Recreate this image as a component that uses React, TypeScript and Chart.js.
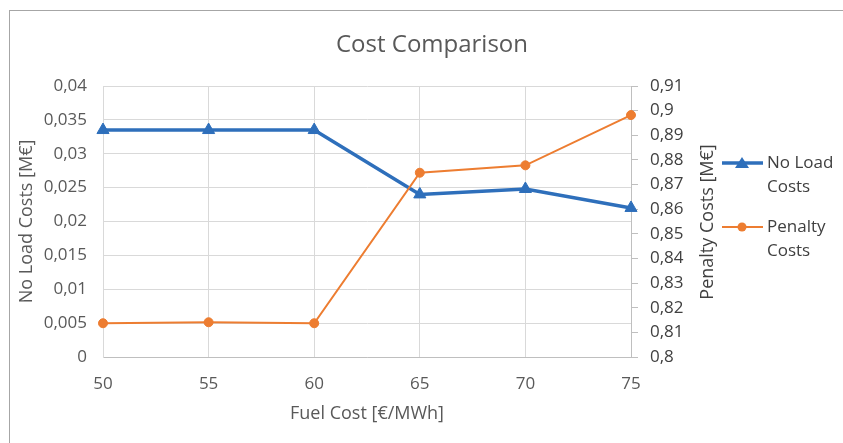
import React, { useEffect, useRef } from "react";
import { Chart, registerables } from "chart.js";

Chart.register(...registerables);

const categories = ["50", "55", "60", "65", "70", "75"];
const noLoadCosts = [0.0335, 0.0335, 0.0335, 0.024, 0.0248, 0.022];
const penaltyCosts = [0.8137, 0.8141, 0.8137, 0.8748, 0.8778, 0.8982];
const seriesNames = ["No Load Costs", "Penalty Costs"];
const legendLines = [["No Load", "Costs"], ["Penalty", "Costs"]];
const titleText = "Cost Comparison";
const xTitle = "Fuel Cost [€/MWh]";
const yLeftTitle = "No Load Costs [M€]";
const yRightTitle = "Penalty Costs [M€]";

const BLUE = "#2e6fbb";
const ORANGE = "#ed7d31";
const FONT = "'Open Sans', 'Noto Sans', sans-serif";

const fmt = (v: number, d: number) => String(Number(v.toFixed(d))).replace(".", ",");

const extrasPlugin = {
  id: "extras",
  afterDraw(chart: any) {
    const ctx = chart.ctx;
    ctx.save();
    // chart title
    ctx.fillStyle = "#595959";
    ctx.font = `24px ${FONT}`;
    ctx.textAlign = "center";
    ctx.textBaseline = "middle";
    ctx.fillText(titleText, 432, 45);

    // right axis title, rotated bottom-to-top
    ctx.fillStyle = "#404040";
    ctx.font = `18px ${FONT}`;
    ctx.save();
    ctx.translate(708, 222);
    ctx.rotate(-Math.PI / 2);
    ctx.fillText(yRightTitle, 0, 0);
    ctx.restore();

    // legend
    const items = [
      { color: BLUE, width: 3.5, style: "triangle", y: 163 },
      { color: ORANGE, width: 2, style: "circle", y: 227 },
    ];
    items.forEach((it, i) => {
      ctx.strokeStyle = it.color;
      ctx.lineWidth = it.width;
      ctx.beginPath();
      ctx.moveTo(722, it.y);
      ctx.lineTo(763, it.y);
      ctx.stroke();
      ctx.fillStyle = it.color;
      ctx.beginPath();
      if (it.style === "triangle") {
        ctx.moveTo(742, it.y - 6);
        ctx.lineTo(749, it.y + 5);
        ctx.lineTo(735, it.y + 5);
        ctx.closePath();
      } else {
        ctx.arc(742, it.y, 4.5, 0, Math.PI * 2);
      }
      ctx.fill();
      ctx.fillStyle = "#404040";
      ctx.font = `17px ${FONT}`;
      ctx.textAlign = "left";
      ctx.textBaseline = "middle";
      legendLines[i].forEach((t, j) => {
        ctx.fillText(t, 767, it.y + j * 24);
      });
    });
    ctx.restore();
  },
};

export default function App() {
  const ref = useRef<HTMLCanvasElement | null>(null);
  useEffect(() => {
    if (!ref.current) return;
    const chart = new Chart(ref.current, {
      type: "line",
      data: {
        labels: categories,
        datasets: [
          {
            label: seriesNames[0],
            data: noLoadCosts,
            yAxisID: "y",
            borderColor: BLUE,
            backgroundColor: BLUE,
            borderWidth: 3.5,
            pointStyle: "triangle",
            pointRadius: 7,
            pointBorderWidth: 1,
            order: 1,
          },
          {
            label: seriesNames[1],
            data: penaltyCosts,
            yAxisID: "y1",
            borderColor: ORANGE,
            backgroundColor: ORANGE,
            borderWidth: 2,
            pointStyle: "circle",
            pointRadius: 4.5,
            pointBorderWidth: 1,
            order: 0,
          },
        ],
      },
      options: {
        animation: false,
        responsive: false,
        devicePixelRatio: 1,
        layout: { padding: { top: 86, left: 0, right: 0, bottom: 0 } },
        plugins: {
          legend: { display: false },
          tooltip: { enabled: false },
          title: { display: false },
        },
        scales: {
          x: {
            type: "category",
            offset: false,
            grid: { color: "#d9d9d9", drawTicks: false },
            border: { color: "#bfbfbf" },
            ticks: {
              color: "#595959",
              font: { family: FONT, size: 17 },
              padding: 17,
              maxRotation: 0,
            },
            title: {
              display: true,
              text: xTitle,
              color: "#595959",
              font: { family: FONT, size: 18 },
              padding: { top: 0, bottom: 18 },
            },
            afterFit: (s: any) => {
              s.height = 86;
            },
          },
          y: {
            position: "left",
            min: 0,
            max: 0.04,
            grid: { color: "#d9d9d9", drawTicks: false },
            border: { color: "#d9d9d9" },
            ticks: {
              stepSize: 0.005,
              color: "#595959",
              font: { family: FONT, size: 17 },
              padding: 16,
              callback: (v: any) => fmt(Number(v), 3),
            },
            title: {
              display: true,
              text: yLeftTitle,
              color: "#595959",
              font: { family: FONT, size: 18 },
              padding: { top: 16, bottom: 0 },
            },
            afterFit: (s: any) => {
              s.width = 103;
            },
          },
          y1: {
            position: "right",
            min: 0.8,
            max: 0.91,
            grid: { drawOnChartArea: false, drawTicks: true, tickLength: 7, color: "#bfbfbf" },
            border: { color: "#bfbfbf" },
            ticks: {
              stepSize: 0.01,
              color: "#404040",
              font: { family: FONT, size: 17 },
              padding: 12,
              callback: (v: any) => fmt(Number(v), 2),
            },
            afterFit: (s: any) => {
              s.width = 212;
            },
          },
        },
      },
      plugins: [extrasPlugin],
    } as any);
    return () => chart.destroy();
  }, []);

  return (
    <div style={{ position: "fixed", left: 0, top: 0, width: 843, height: 443, background: "#fff" }}>
      <canvas ref={ref} width={843} height={443} style={{ display: "block" }} />
      <div
        style={{
          position: "absolute",
          left: 9,
          top: 10,
          width: 840,
          height: 440,
          borderTop: "1px solid #a6a6a6",
          borderLeft: "1px solid #a6a6a6",
          pointerEvents: "none",
        }}
      />
    </div>
  );
}
